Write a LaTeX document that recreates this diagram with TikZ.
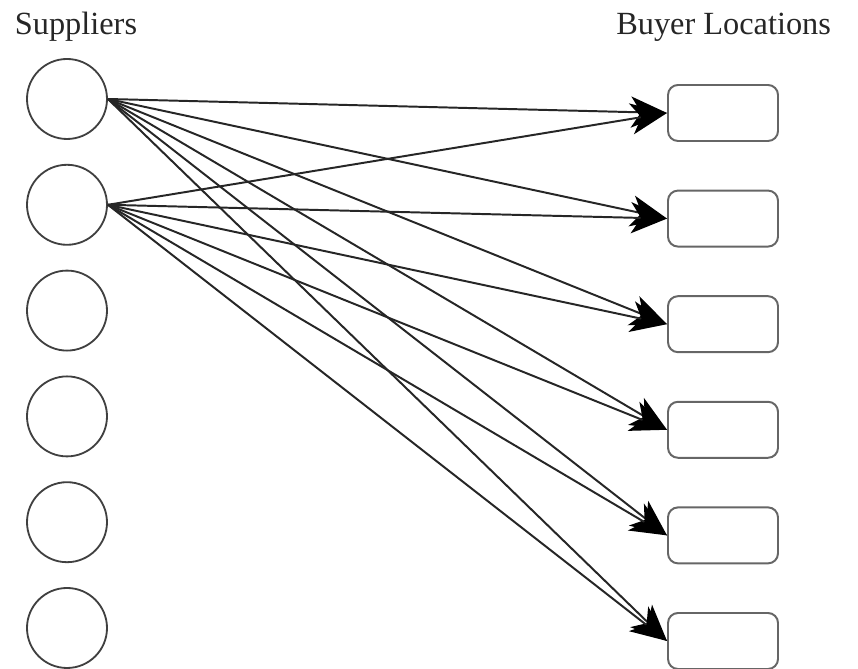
\documentclass[tikz,border=0pt]{standalone}
\usepackage{fontspec}
\setmainfont{Liberation Serif}
\usetikzlibrary{arrows.meta}

\tikzset{
  supplier/.style={draw=black!75, line width=1.3pt, circle, minimum size=2cm, inner sep=0pt},
  buyer/.style={draw=black!60, line width=1.4pt, rounded corners=0.25cm, minimum width=2.75cm, minimum height=1.4cm},
  heading/.style={font=\fontsize{23}{27}\selectfont, text=black!85, anchor=base},
  ship/.style={black!85, line width=1.4pt, -{Stealth[length=0.9cm, width=0.78cm, inset=0.25cm, black]}}
}

\begin{document}
\begin{tikzpicture}
\useasboundingbox (0,0) rectangle (21.45,16.725);
% Column headings
\node[heading] (suphead) at (1.9,15.85) {Suppliers};
\node[heading] (buyhead) at (18.09,15.85) {Buyer Locations};
% Supplier circles and buyer boxes
\foreach \i in {1,...,6} {
  \node[supplier] (s\i) at (1.675,{14.25-2.645*(\i-1)}) {};
  \node[buyer] (b\i) at (18.075,{13.9-2.64*(\i-1)}) {};
}
% Shipments from the first two suppliers to every buyer
\foreach \i in {1,2} {
  \foreach \j in {1,...,6} {
    \draw[ship] (s\i.east) -- (b\j.west);
  }
}
\end{tikzpicture}
\end{document}
